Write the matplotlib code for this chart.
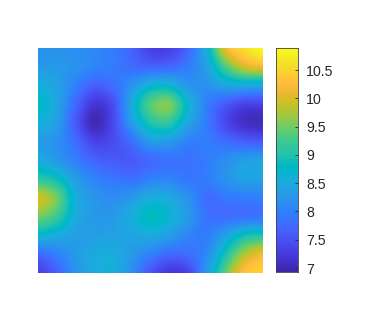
import numpy as np
import matplotlib
matplotlib.use("Agg")
import matplotlib.pyplot as plt
from matplotlib.colors import LinearSegmentedColormap, Normalize

surface = [
    [8.2, 8.2, 8.15, 8.05, 7.95, 7.7, 7.3, 7.3, 7.7, 8.6, 10.1, 10.6, 10.89],
    [8.3, 8.3, 8.2, 8.05, 7.95, 7.8, 7.7, 7.75, 7.95, 8.4, 9.3, 9.95, 10.15],
    [8.6, 8.4, 8.0, 7.65, 7.8, 8.2, 8.65, 8.7, 8.25, 8.2, 8.45, 8.5, 8.45],
    [8.8, 8.45, 7.75, 7.2, 7.45, 8.5, 9.35, 9.55, 8.7, 8.0, 7.6, 7.35, 7.35],
    [8.6, 8.35, 7.6, 7.0, 7.4, 8.3, 9.0, 9.1, 8.45, 7.95, 7.4, 7.1, 7.05],
    [8.35, 8.2, 7.8, 7.35, 7.45, 7.8, 8.3, 8.3, 8.0, 7.95, 7.8, 7.65, 7.6],
    [8.55, 8.3, 8.0, 7.7, 7.6, 7.6, 7.75, 7.85, 7.85, 7.95, 8.15, 8.35, 8.4],
    [9.1, 8.9, 8.35, 8.05, 7.9, 7.85, 8.0, 8.05, 7.9, 7.95, 8.2, 8.4, 8.4],
    [9.95, 9.5, 8.6, 8.25, 8.15, 8.3, 8.55, 8.5, 8.2, 7.8, 7.9, 7.95, 8.0],
    [9.5, 9.2, 8.55, 8.3, 8.3, 8.55, 8.85, 8.65, 8.3, 7.85, 7.8, 7.85, 7.9],
    [8.7, 8.55, 8.35, 8.35, 8.4, 8.45, 8.5, 8.35, 8.05, 7.95, 8.4, 8.9, 9.0],
    [7.75, 8.0, 8.3, 8.5, 8.55, 8.3, 8.0, 7.75, 7.8, 8.1, 8.95, 9.75, 10.15],
    [7.3, 7.65, 8.2, 8.5, 8.6, 8.15, 7.55, 7.2, 7.35, 8.3, 9.4, 10.3, 10.45],
]
cbar_ticks = [7, 7.5, 8, 8.5, 9, 9.5, 10, 10.5]
cbar_labels = ["7", "7.5", "8", "8.5", "9", "9.5", "10", "10.5"]
vmin, vmax = 6.93, 10.89

parula = [
    (0.2422,0.1504,0.6603),(0.2504,0.1650,0.7076),(0.2578,0.1818,0.7511),(0.2647,0.1978,0.7952),
    (0.2706,0.2147,0.8364),(0.2751,0.2342,0.8710),(0.2783,0.2559,0.8991),(0.2803,0.2782,0.9221),
    (0.2813,0.3006,0.9414),(0.2810,0.3228,0.9579),(0.2795,0.3447,0.9717),(0.2760,0.3667,0.9829),
    (0.2699,0.3892,0.9906),(0.2602,0.4123,0.9952),(0.2440,0.4358,0.9988),(0.2206,0.4603,0.9973),
    (0.1963,0.4847,0.9892),(0.1834,0.5074,0.9798),(0.1786,0.5289,0.9682),(0.1764,0.5499,0.9520),
    (0.1687,0.5703,0.9359),(0.1540,0.5902,0.9218),(0.1460,0.6091,0.9079),(0.1380,0.6276,0.8973),
    (0.1248,0.6459,0.8883),(0.1113,0.6635,0.8763),(0.0952,0.6798,0.8598),(0.0689,0.6948,0.8394),
    (0.0297,0.7082,0.8163),(0.0036,0.7203,0.7917),(0.0067,0.7312,0.7660),(0.0433,0.7411,0.7394),
    (0.0964,0.7500,0.7120),(0.1408,0.7584,0.6842),(0.1717,0.7670,0.6554),(0.1938,0.7758,0.6251),
    (0.2161,0.7843,0.5923),(0.2470,0.7918,0.5567),(0.2906,0.7973,0.5188),(0.3406,0.8008,0.4789),
    (0.3909,0.8029,0.4354),(0.4456,0.8024,0.3909),(0.5044,0.7993,0.3480),(0.5616,0.7942,0.3045),
    (0.6174,0.7876,0.2612),(0.6720,0.7793,0.2227),(0.7242,0.7698,0.1910),(0.7738,0.7598,0.1646),
    (0.8203,0.7498,0.1535),(0.8634,0.7406,0.1596),(0.9035,0.7330,0.1774),(0.9393,0.7288,0.2100),
    (0.9728,0.7298,0.2394),(0.9956,0.7434,0.2371),(0.9970,0.7659,0.2199),(0.9952,0.7893,0.2028),
    (0.9892,0.8136,0.1885),(0.9786,0.8386,0.1766),(0.9676,0.8639,0.1643),(0.9610,0.8890,0.1537),
    (0.9597,0.9135,0.1423),(0.9628,0.9373,0.1265),(0.9691,0.9606,0.1064),(0.9769,0.9839,0.0805),
]
cmap = LinearSegmentedColormap.from_list("parula", parula, N=256)
norm = Normalize(vmin, vmax)

W, H = 372, 315
plt.rcParams["font.family"] = "Liberation Sans"
fig = plt.figure(figsize=(W / 100, H / 100), dpi=100)

def box(x0, y0, x1, y1):
    return [x0 / W, 1 - y1 / H, (x1 - x0) / W, (y1 - y0) / H]

ax = fig.add_axes(box(38, 48, 263, 273))
ax.imshow(surface, cmap=cmap, norm=norm, interpolation="catrom",
          extent=(-0.5, 12.5, 12.5, -0.5), aspect="auto")
ax.set_xlim(0, 12)
ax.set_ylim(12, 0)
ax.axis("off")

cax = fig.add_axes(box(276, 48, 298, 272))
cax.imshow(np.linspace(vmin, vmax, 256)[:, None], cmap=cmap, norm=norm, origin="lower",
           extent=(0, 1, vmin, vmax), aspect="auto", interpolation="bilinear")
cax.set_xticks([])
cax.yaxis.tick_right()
cax.set_yticks(cbar_ticks, labels=cbar_labels)
cax.tick_params(axis="y", direction="in", length=2.5, width=0.6, color="#262626",
                labelsize=10.2, labelcolor="#262626", pad=6)
for s in cax.spines.values():
    s.set_linewidth(0.6)
    s.set_edgecolor("#404040")

fig.savefig("out.png", dpi=100)
